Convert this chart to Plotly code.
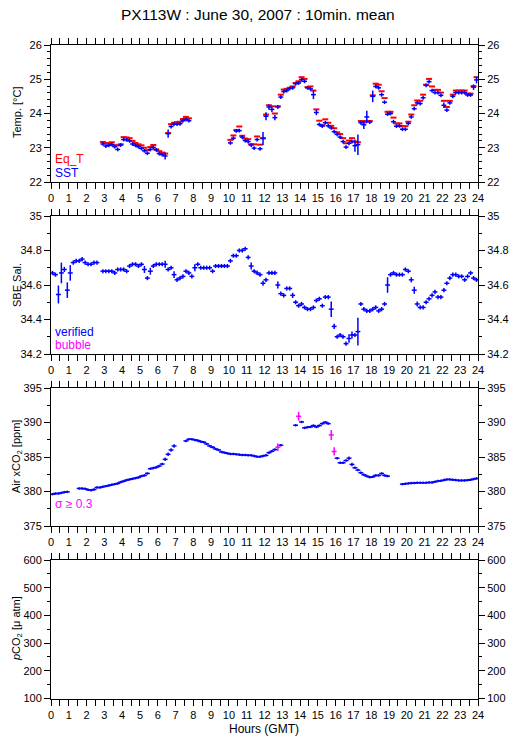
# PX113W daily plot: temperature, salinity, air xCO2 and pCO2, 10-min means
import plotly.graph_objects as go

# ----------------------------------------------------------------------------------------------------------------------
# Data (10-min means, one slot per 10-min bin, None = no data)
# ----------------------------------------------------------------------------------------------------------------------
title = "PX113W : June 30, 2007 : 10min. mean"

# bin centres 00:05 ... 23:55 in hours
hours = [(i * 10 + 5) / 60 for i in range(144)]
hour_ticks = list(range(25))

sst = [None] * 17 + [
    23.11, 23.05, 23.07, 23.10, 23.03, 22.95, 23.08, 23.24, 23.23, 23.20,
    23.11, 23.07, 23.03, 22.98, 22.91, 22.84, 22.95, 23.01, 22.94, 22.83,
    22.80, 22.76, 23.41, 23.62, 23.69, 23.69, 23.70, 23.79, 23.83, 23.79,
] + [None] * 13 + [
    23.14, 23.28, 23.49, 23.50, 23.31, 23.21, 23.18, 23.08, 22.99, 23.24,
    22.97, 23.27, 23.92, 24.19,
    24.12, 23.88, 24.19, 24.48, 24.64, 24.67, 24.73, 24.75, 24.87, 24.89,
    24.99, 24.94, 24.75, 24.72, 24.55, 24.03, 23.68, 23.63, 23.73, 23.64,
    23.58, 23.47, 23.39, 23.31, 23.18, 23.02, 23.13, 23.18, 23.06, 23.09,
    23.73, 23.67, 23.90, 23.75, 24.50, 24.79, 24.75, 24.55, 24.33, 23.98,
    24.00, 23.76, 23.63, 23.64, 23.54, 23.54, 23.71, 23.90, 24.14, 24.31,
    24.29, 24.46, 24.82, 24.93, 24.67, 24.61, 24.61, 24.53, 24.24, 24.10,
    24.31, 24.50, 24.61, 24.61, 24.61, 24.61, 24.54, 24.54, 24.77, 24.98,
]

eq_t = [None] * 17 + [
    23.17, 23.14, 23.12, 23.16, 23.07, 23.07, 23.10, 23.31, 23.30, 23.28,
    23.20, 23.14, 23.10, 23.07, 23.00, 22.93, 23.02, 23.08, 22.95, 22.90,
    22.86, 22.83, 23.43, 23.69, 23.73, 23.75, 23.76, 23.84, 23.90, 23.86,
] + [None] * 13 + [
    23.23, 23.36, 23.52, 23.62, 23.35, 23.27, 23.25, 23.10, 23.10, 23.33,
    23.09, 23.28, 23.97, 24.24,
    24.21, 24.00, 24.21, 24.55, 24.70, 24.72, 24.75, 24.79, 24.89, 24.94,
    25.06, 25.01, 24.77, 24.79, 24.67, 24.12, 23.79, 23.66, 23.83, 23.73,
    23.64, 23.57, 23.45, 23.40, 23.28, 23.13, 23.21, 23.28, 23.18, 23.16,
    23.78, 23.74, 23.78, 23.78, 24.53, 24.87, 24.84, 24.65, 24.45, 24.05,
    24.05, 23.88, 23.71, 23.71, 23.63, 23.63, 23.76, 23.97, 24.24, 24.38,
    24.37, 24.55, 24.84, 25.01, 24.79, 24.69, 24.69, 24.61, 24.37, 24.19,
    24.37, 24.55, 24.67, 24.67, 24.67, 24.67, 24.58, 24.58, 24.80, 25.06,
]

sst_sd = {"06:25": 0.10, "06:35": 0.12, "11:55": 0.19, "12:05": 0.12, "12:15": 0.08,
          "12:25": 0.08, "12:35": 0.08, "14:45": 0.13, "14:55": 0.08, "17:05": 0.18,
          "17:15": 0.30, "17:35": 0.12, "17:45": 0.18, "18:05": 0.17, "18:35": 0.06,
          "22:05": 0.08, "23:45": 0.08, "23:55": 0.10}

sal = [
    34.67, 34.66, 34.545, 34.67, 34.69, 34.57, 34.67, 34.73, 34.74, 34.74,
    34.75, 34.73, 34.72, 34.72, 34.73, 34.73, None, 34.68, 34.68, 34.68,
    34.68, 34.67, 34.69, 34.69, 34.69, 34.68, 34.71, 34.72, 34.72, 34.71,
    34.72, 34.69, 34.64, 34.68, 34.71, 34.72, 34.72, 34.72, 34.72, 34.69,
    34.70, 34.66, 34.63, 34.64, 34.65, 34.68, 34.67, 34.65, 34.70, 34.72,
    34.70, 34.70, 34.70, 34.70, 34.68, 34.71, 34.71, 34.71, 34.71, 34.71,
    34.74, 34.77, 34.77, 34.80, 34.80, 34.81, 34.76, 34.71, 34.68, 34.67,
    34.66, 34.61, 34.63, 34.67, 34.67, 34.67, 34.60, 34.55, 34.54, 34.58,
    34.58, 34.54, 34.50, 34.48, 34.49, 34.47, 34.46, 34.46, 34.47, 34.51,
    34.52, 34.48, 34.53, 34.53, 34.46, 34.36, 34.30, 34.31, 34.30, 34.26,
    34.29, 34.31, 34.31, 34.33, 34.49, 34.46, 34.45, 34.45, 34.46, 34.47,
    34.45, 34.46, 34.49, 34.60, 34.66, 34.67, 34.66, 34.66, 34.66, 34.69,
    34.68, 34.63, 34.57, 34.49, 34.47, 34.47, 34.50, 34.52, 34.54, 34.56,
    34.53, 34.53, 34.57, 34.61, 34.64, 34.66, 34.66, 34.65, 34.65, 34.63,
    34.65, 34.67, 34.64, 34.63,
]

sal_sd = {"00:25": 0.052, "00:35": 0.06, "00:45": 0.015, "00:55": 0.045, "01:05": 0.045,
          "05:15": 0.02, "05:35": 0.02, "06:25": 0.02, "06:55": 0.02, "08:05": 0.02,
          "11:15": 0.02, "11:55": 0.015, "12:45": 0.02, "13:35": 0.015, "15:45": 0.045,
          "15:55": 0.015, "16:45": 0.025, "16:55": 0.02, "17:15": 0.08, "18:55": 0.045,
          "20:15": 0.015, "20:25": 0.02, "20:35": 0.015}

air_co2 = [
    379.61, 379.71, 379.71, 379.80, 379.90, 379.95,
] + [None] * 3 + [
    380.44, 380.44, 380.39, 380.24, 380.19, 380.29, 380.58, 380.58, 380.68, 380.78,
    380.87, 380.97, 381.07, 381.17, 381.36, 381.50, 381.65, 381.75, 381.84, 381.94,
    382.04, 382.23, 382.33, 382.62, 383.30, 383.40, 383.50, 383.69, 383.98, 384.66,
    385.39, 386.02, 386.60,
] + [None] * 3 + [
    387.33, 387.57, 387.57, 387.48, 387.38, 387.23, 387.14, 386.89, 386.60, 386.41,
    386.17, 386.02, 385.73, 385.63, 385.53, 385.44, 385.44, 385.39, 385.34, 385.29,
    385.29, 385.24, 385.24, 385.15, 385.05, 385.05, 385.15, 385.24, 385.63, 385.84,
    386.08, 386.42, 386.71,
] + [None] * 4 + [
    389.60, 390.90, 390.08, 389.22, 389.31, 389.36, 389.55, 389.36, 389.55, 389.84,
    390.04, 389.84, 388.20, 385.80, 384.83, 384.16, 384.16, 384.49, 384.83, 383.92,
    383.43, 383.10, 382.71, 382.42, 382.23, 382.08, 382.13, 382.33, 382.33, 382.61,
    382.33, 382.23,
] + [None] * 4 + [
    381.07, 381.12, 381.17, 381.22, 381.22, 381.27, 381.27, 381.27, 381.27, 381.31,
    381.31, 381.41, 381.51, 381.55, 381.65, 381.75, 381.75, 381.70, 381.65, 381.60,
    381.60, 381.60, 381.65, 381.70, 381.80, 381.89,
]

co2_sd = {"06:25": 0.25, "06:35": 0.25, "06:45": 0.25, "06:55": 0.25, "12:45": 0.55,
          "13:55": 0.63, "15:45": 0.72, "15:55": 0.60, "16:45": 0.25, "16:55": 0.25}
sigma_limit = 0.3

# ----------------------------------------------------------------------------------------------------------------------
# Style
# ----------------------------------------------------------------------------------------------------------------------
W, H = 515, 739
L, R = 51, 37
FONT = "Liberation Sans, Arial, Helvetica, sans-serif"
BLUE, RED, MAG = "#0000ff", "#ff0000", "#ff00ff"

# panel top/bottom in pixels
panels_px = [(45, 182), (216, 354), (388, 526), (560, 698.5)]
y_ranges = [(22, 26), (34.2, 35), (375, 395), (100, 600)]
y_dtick = [1, 0.2, 5, 100]
y_minor = [0.2, 0.1, 2.5, 50]


def slot(key):
    h, m = key.split(":")
    return (int(h) * 60 + int(m) - 5) // 10


def sd_list(sd, floor):
    out = [floor] * len(hours)
    for k, v in sd.items():
        out[slot(k)] = max(v, floor)
    return out


def py(px):
    return 1 - px / H


def px_x(px):
    return (px - L) / (W - L - R)


def cross(y, err, color, xa, ya, size=3.5):
    return go.Scatter(x=hours, y=y, xaxis=xa, yaxis=ya, mode="markers",
                      marker=dict(symbol="line-ew", size=size, line=dict(color=color, width=1.5)),
                      error_y=dict(type="data", array=err, width=0, thickness=1.5, color=color),
                      showlegend=False, hoverinfo="x+y")


fig = go.Figure()

# panel 1: Eq_T (red dashes) and SST (blue crosses)
fig.add_trace(go.Scatter(x=hours, y=eq_t, xaxis="x", yaxis="y", mode="markers",
                         marker=dict(symbol="line-ew", size=4.3, line=dict(color=RED, width=2)),
                         showlegend=False))
fig.add_trace(cross(sst, sd_list(sst_sd, 0.055), BLUE, "x", "y"))

# panel 2: salinity
fig.add_trace(cross(sal, sd_list(sal_sd, 0.012), BLUE, "x2", "y2"))

# panel 3: air xCO2, sigma >= 0.3 in magenta
co2_err = sd_list(co2_sd, 0.18)
co2_ok = [v if e < sigma_limit else None for v, e in zip(air_co2, co2_err)]
co2_bad = [v if e >= sigma_limit else None for v, e in zip(air_co2, co2_err)]
fig.add_trace(cross(co2_ok, co2_err, BLUE, "x3", "y3"))
fig.add_trace(cross(co2_bad, co2_err, MAG, "x3", "y3"))

# panel 4: pCO2 (no data)
fig.add_trace(go.Scatter(x=[None], y=[None], xaxis="x4", yaxis="y4", showlegend=False))

# dummy traces for the right-hand axes
for k in range(4):
    fig.add_trace(go.Scatter(x=[None], y=[None], xaxis="x" if k == 0 else f"x{k + 1}",
                             yaxis=f"y{k + 5}", showlegend=False, hoverinfo="skip"))

tick_font = dict(family=FONT, size=11, color="black")
layout = dict(
    width=W, height=H,
    margin=dict(l=L, r=R, t=0, b=0, pad=0, autoexpand=False),
    paper_bgcolor="white", plot_bgcolor="white",
    font=dict(family=FONT, size=11, color="black"),
)

common = dict(ticks="outside", ticklen=6, tickwidth=1, tickcolor="black",
              showgrid=False, zeroline=False, tickfont=tick_font, fixedrange=True, automargin=False)

for k in range(4):
    top, bot = panels_px[k]
    sx = "" if k == 0 else str(k + 1)
    layout["xaxis" + sx] = dict(
        domain=[0, 1], anchor="y" + sx, range=[0, 24], tickmode="array", tickvals=hour_ticks,
        minor=dict(dtick=0.5, tick0=0, ticks="outside", ticklen=3, tickwidth=1, tickcolor="black"),
        showline=True, linecolor="black", linewidth=1, mirror="allticks", **common,
    )
    layout["yaxis" + sx] = dict(
        domain=[py(bot), py(top)], anchor="x" + sx, range=list(y_ranges[k]),
        dtick=y_dtick[k], tick0=y_ranges[k][0],
        minor=dict(dtick=y_minor[k], tick0=y_ranges[k][0], ticks="outside", ticklen=3,
                   tickwidth=1, tickcolor="black"),
        showline=True, linecolor="black", linewidth=1, mirror="allticks", **common,
    )
    layout[f"yaxis{k + 5}"] = dict(
        overlaying="y" + sx, side="right", anchor="x" + sx, range=list(y_ranges[k]),
        dtick=y_dtick[k], tick0=y_ranges[k][0],
        minor=dict(dtick=y_minor[k], tick0=y_ranges[k][0], ticks="outside", ticklen=3,
                   tickwidth=1, tickcolor="black"),
        showline=False, **common,
    )

fig.update_layout(**layout)

ann = [
    dict(text=title, x=px_x(258), y=py(14), font=dict(size=15.5)),
    dict(text="Hours (GMT)", x=px_x(264), y=py(729), font=dict(size=12)),
    dict(text="Temp. [°C]", x=px_x(17), y=py(113), textangle=-90, font=dict(size=11)),
    dict(text="SBE Sal.", x=px_x(17), y=py(285), textangle=-90, font=dict(size=11)),
    dict(text="Air xCO<sub>2</sub> [ppm]", x=px_x(17), y=py(457), textangle=-90, font=dict(size=11)),
    dict(text="<i>p</i>CO<sub>2</sub> [μ atm]", x=px_x(17), y=py(629), textangle=-90, font=dict(size=11)),
    dict(text="Eq_T", x=px_x(54), y=py(159), xanchor="left", font=dict(size=12, color=RED)),
    dict(text="SST", x=px_x(54), y=py(173), xanchor="left", font=dict(size=12, color=BLUE)),
    dict(text="verified", x=px_x(54), y=py(332), xanchor="left", font=dict(size=12, color=BLUE)),
    dict(text="bubble", x=px_x(54), y=py(345), xanchor="left", font=dict(size=12, color=MAG)),
    dict(text="σ ≥ 0.3", x=px_x(54), y=py(504), xanchor="left", font=dict(size=12, color=MAG)),
]
for a in ann:
    a.setdefault("xanchor", "center")
    fig.add_annotation(xref="paper", yref="paper", showarrow=False, yanchor="middle", borderpad=0, **a)

fig.write_html("out.html", config={"displayModeBar": False},
               post_script="document.body.style.margin='0';")
